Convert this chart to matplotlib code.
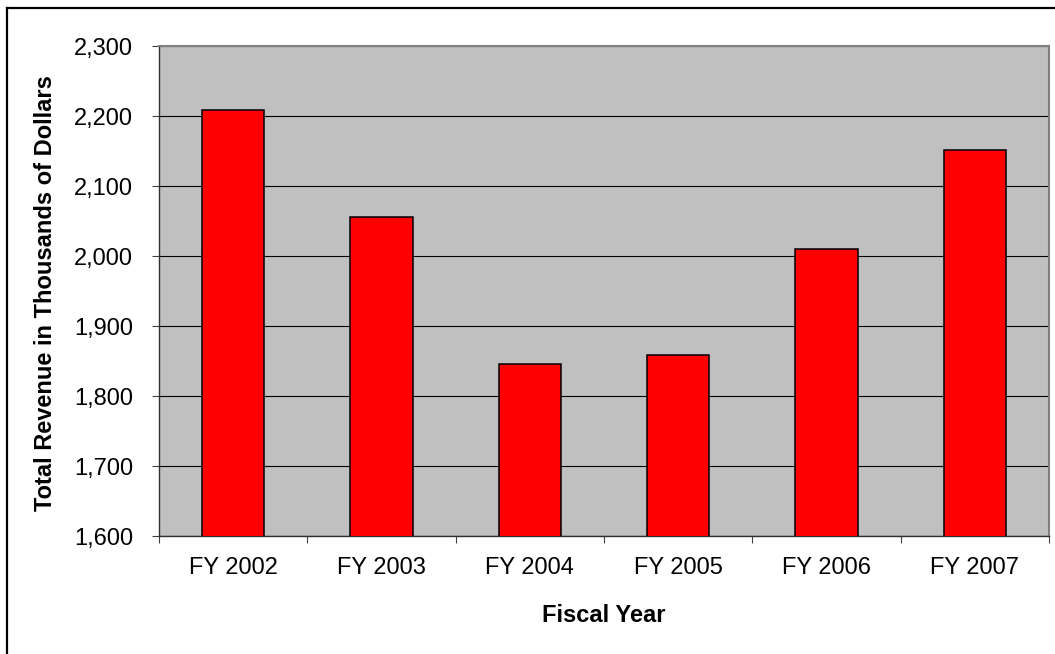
import matplotlib.pyplot as plt
from matplotlib.lines import Line2D

plt.rcParams['font.family'] = ['Liberation Sans', 'DejaVu Sans']

# Total revenue per fiscal year (thousands of dollars)
years = ['FY 2002', 'FY 2003', 'FY 2004', 'FY 2005', 'FY 2006', 'FY 2007']
revenue = [2209, 2056, 1846, 1859, 2010, 2151]
y_ticks = [1600, 1700, 1800, 1900, 2000, 2100, 2200, 2300]

fig = plt.figure(figsize=(10.55, 6.54), dpi=100)
ax = fig.add_axes([159 / 1055, 1 - 536 / 654, 890 / 1055, 490 / 654])
ax.set_facecolor('#C0C0C0')

x = range(len(years))
ax.bar(x, revenue, width=0.42, color='#FF0000', edgecolor='black',
       linewidth=1.1, zorder=3)

ax.set_xlim(-0.5, len(years) - 0.5)
ax.set_ylim(y_ticks[0], y_ticks[-1])

# y axis with comma-separated labels and black gridlines
ax.set_yticks(y_ticks)
ax.set_yticklabels([f'{v:,}' for v in y_ticks])
ax.yaxis.grid(True, color='black', linewidth=0.8, zorder=1)
ax.set_axisbelow(True)
ax.tick_params(axis='y', direction='out', length=5, width=0.8,
               color='#404040', pad=13.5, labelsize=17)

# category ticks sit between bars, labels under bar centres
ax.set_xticks([i - 0.5 for i in range(len(years) + 1)])
ax.set_xticklabels([])
ax.set_xticks(list(x), minor=True)
ax.set_xticklabels(years, minor=True)
ax.tick_params(axis='x', which='major', direction='out', length=5,
               width=0.8, color='#404040')
ax.tick_params(axis='x', which='minor', length=0, pad=15, labelsize=17)

for side in ['left', 'bottom']:
    ax.spines[side].set_color('#303030')
    ax.spines[side].set_linewidth(1.0)
for side in ['top', 'right']:
    ax.spines[side].set_color('#808080')
    ax.spines[side].set_linewidth(1.5)

fig.text(46 / 1055, 1 - 293.5 / 654, 'Total Revenue in Thousands of Dollars',
         rotation=90, ha='center', va='center', fontsize=17,
         fontweight='bold')
fig.text(604 / 1055, 1 - 621.7 / 654, 'Fiscal Year', ha='center',
         va='baseline', fontsize=17, fontweight='bold')

# chart frame
fig.add_artist(Line2D([7 / 1055, 7 / 1055], [-0.01, 1 - 7.5 / 654],
                      color='black', linewidth=1.6))
fig.add_artist(Line2D([7 / 1055, 1.01], [1 - 7.5 / 654, 1 - 7.5 / 654],
                      color='black', linewidth=1.6))

fig.savefig('out.png', dpi=100)
